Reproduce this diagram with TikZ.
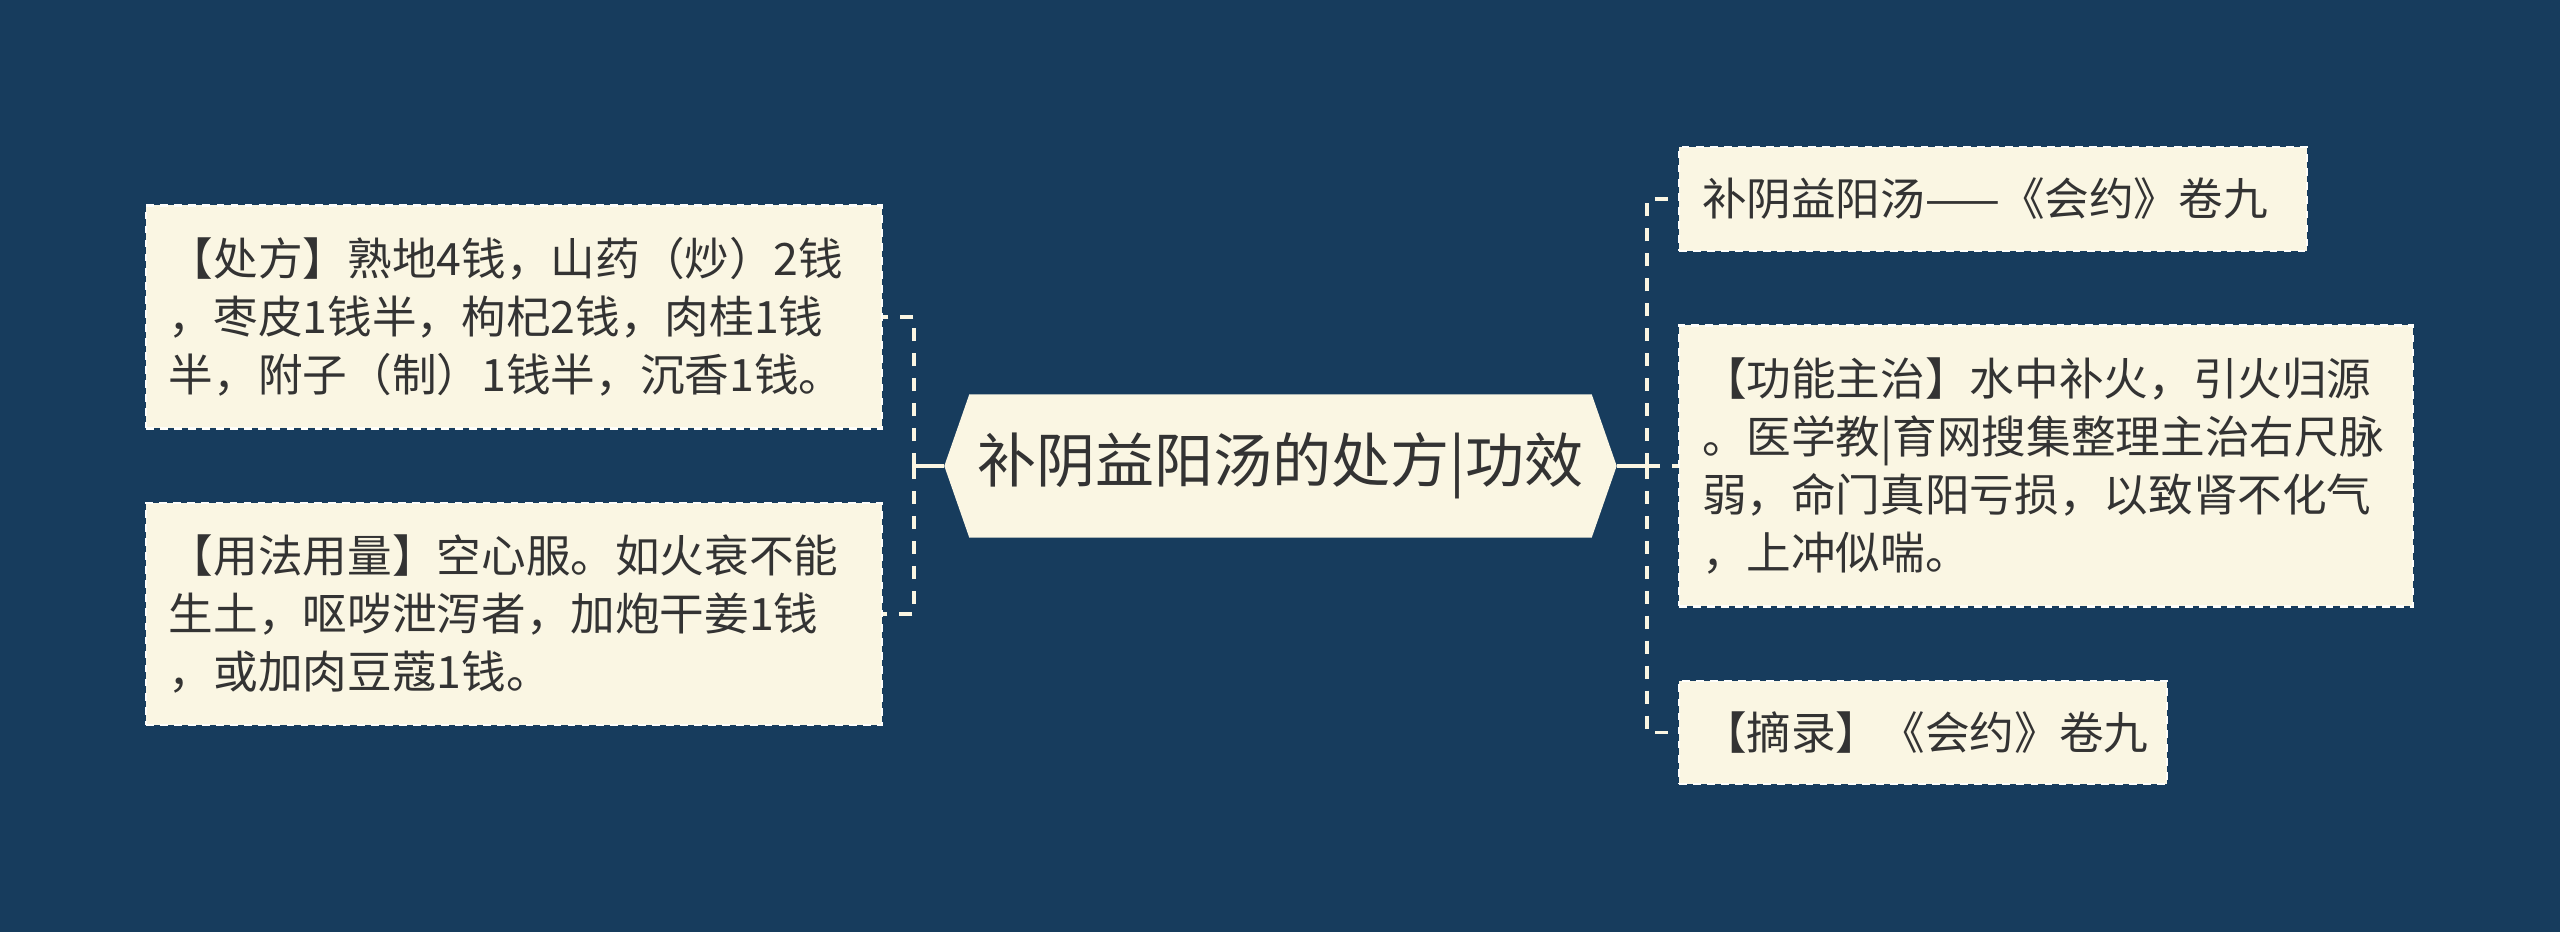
\documentclass[tikz,border=0pt]{standalone}
\usepackage{fontspec}
\setmainfont{Noto Sans CJK SC}
\usepackage{xcolor}
\usetikzlibrary{calc,backgrounds}
\definecolor{navy}{HTML}{173C5D}
\definecolor{cream}{HTML}{FAF6E3}
\definecolor{ink}{HTML}{333333}
\tikzset{
  every node/.style={font=\fontsize{12.7pt}{16.5pt}\selectfont, text=ink},
  leaf/.style={rectangle, fill=cream, draw=white!85!cream, dash pattern=on 2.2pt off 1.8pt,
    line width=0.6pt, align=left, inner xsep=0.23cm, inner ysep=0pt},
  link/.style={draw=cream, line width=1.1pt, dash pattern=on 3.7pt off 3.4pt},
  stub/.style={draw=cream, line width=1.1pt}
}

\begin{document}
\begin{tikzpicture}
  \useasboundingbox (0,0) rectangle (25.6,9.32);

  % --- Centre ---
  \node[minimum width=6.21cm, minimum height=1.42cm, inner sep=0,
        font=\fontsize{16.8pt}{20pt}\selectfont] (title) at (12.805,4.66) {补阴益阳汤的处方|功效};
  \coordinate (tl) at ($(title.west)+(-0.25,0)$);
  \coordinate (tr) at ($(title.east)+(0.25,0)$);
  \begin{scope}[on background layer]
    \fill[navy] (0,0) rectangle (25.6,9.32);
    \fill[cream] (title.north west) -- (title.north east) -- (tr) -- (title.south east)
      -- (title.south west) -- (tl) -- cycle;
  \end{scope}

  % --- Left branch ---
  \node[leaf, text width=6.9cm, minimum height=2.23cm, anchor=east] (lbox1) at (8.83,6.15)
    {【处方】熟地4钱，山药（炒）2钱\\，枣皮1钱半，枸杞2钱，肉桂1钱\\半，附子（制）1钱半，沉香1钱。};
  \node[leaf, text width=6.9cm, minimum height=2.22cm, anchor=east] (lbox2) at (8.83,3.18)
    {【用法用量】空心服。如火衰不能\\生土，呕哕泄泻者，加炮干姜1钱\\，或加肉豆蔻1钱。};
  \coordinate (lj) at (9.14,4.66);
  \draw[stub] (tl) -- (lj);
  \draw[link] (lj) |- (lbox1.east);
  \draw[link] (lj) |- (lbox2.east);

  % --- Right branch ---
  \node[leaf, text width=5.82cm, minimum height=1.04cm, anchor=west] (rbox1) at (16.78,7.33)
    {补阴益阳汤——《会约》卷九};
  \node[leaf, text width=6.88cm, minimum height=2.81cm, anchor=west] (rbox2) at (16.78,4.66)
    {【功能主治】水中补火，引火归源\\。医学教|育网搜集整理主治右尺脉\\弱，命门真阳亏损，以致肾不化气\\，上冲似喘。};
  \node[leaf, text width=4.42cm, minimum height=1.03cm, anchor=west] (rbox3) at (16.78,1.995)
    {【摘录】《会约》卷九};
  \coordinate (rj) at (16.47,4.66);
  \draw[stub] (tr) -- (rj);
  \draw[link] (rj) |- (rbox1.west);
  \draw[link] (rj) -- (rbox2.west);
  \draw[link] (rj) |- (rbox3.west);
\end{tikzpicture}
\end{document}
